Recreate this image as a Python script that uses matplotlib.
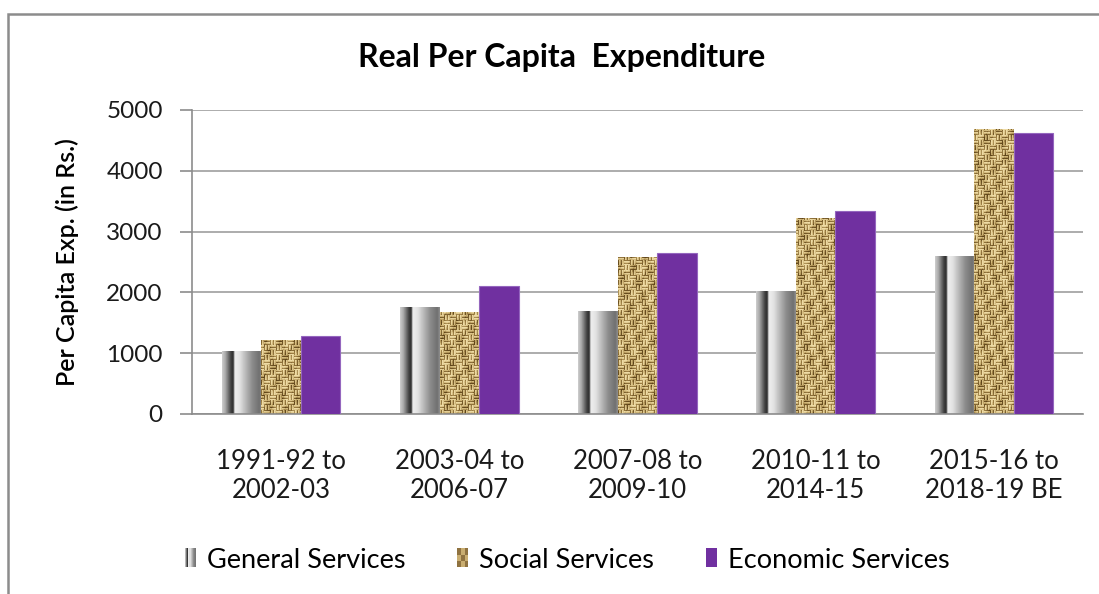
import numpy as np
import matplotlib
matplotlib.use("Agg")
import matplotlib.pyplot as plt
from matplotlib.patches import Rectangle
from matplotlib.path import Path
from matplotlib.colors import LinearSegmentedColormap
from matplotlib.legend_handler import HandlerBase

plt.rcParams["font.family"] = ["Lato", "DejaVu Sans"]

periods = ["1991-92 to\n2002-03", "2003-04 to\n2006-07", "2007-08 to\n2009-10",
           "2010-11 to\n2014-15", "2015-16 to\n2018-19 BE"]
series = ["General Services", "Social Services", "Economic Services"]
general = [1025, 1750, 1690, 2010, 2590]
social = [1210, 1680, 2575, 3225, 4680]
economic = [1280, 2100, 2655, 3340, 4615]
yticks = [0, 1000, 2000, 3000, 4000, 5000]

PURPLE = "#7030a0"
GRID = "#a6a6a6"

# cylinder-like shading across a general services bar (position, gray level)
shade_stops = [(0.00, 0.80), (0.08, 0.66), (0.22, 0.25), (0.28, 0.18),
               (0.32, 0.94), (0.45, 0.88), (0.75, 0.56), (0.94, 0.44), (1.00, 0.55)]
shade_cmap = LinearSegmentedColormap.from_list(
    "shade", [(p, (g, g, g)) for p, g in shade_stops])

weave_cmap = LinearSegmentedColormap.from_list(
    "weave", ["#5e4419", "#9a7c42", "#ceb476", "#efdca6"])


def weave_texture(h, w):
    yy, xx = np.mgrid[0:h, 0:w]
    horiz = ((yy // 5) + (xx // 6)) % 2 == 0
    strand = np.where(horiz, yy % 3, xx % 3)
    val = np.where(strand == 0, 0.25, np.where(strand == 1, 0.9, 0.68))
    val = val + 0.22 * np.sin(xx * 0.37 + yy * 0.11) * np.sin(yy * 0.23 - xx * 0.05)
    val = val - 0.12 * (np.sin(xx * 0.9 + yy * 0.4) > 0.85)
    return np.clip(val, 0, 1)


class GeneralHandler(HandlerBase):
    def create_artists(self, legend, orig_handle, xd, yd, width, height, fontsize, trans):
        n = 10
        x0, y0 = -xd, -yd - 1
        out = []
        for i in range(n):
            g = shade_cmap((i + 0.5) / n)
            out.append(Rectangle((x0 + width * i / n, y0), width / n, height + 2,
                                 facecolor=g, edgecolor="none", transform=trans))
        return out


class SocialHandler(HandlerBase):
    def create_artists(self, legend, orig_handle, xd, yd, width, height, fontsize, trans):
        x0, y0 = -xd, -yd - 1
        out = [Rectangle((x0, y0), width, height + 2, facecolor="#c9ad70",
                         edgecolor="none", transform=trans)]
        for i in range(3):
            for j in range(3):
                if (i + j) % 2 == 0:
                    out.append(Rectangle((x0 + width * i / 3, y0 + (height + 2) * j / 3),
                                         width / 3, (height + 2) / 3,
                                         facecolor="#8f7240", edgecolor="none",
                                         transform=trans))
        return out


class PlainHandler(HandlerBase):
    def create_artists(self, legend, orig_handle, xd, yd, width, height, fontsize, trans):
        return [Rectangle((-xd, -yd - 1), width, height + 2, facecolor=PURPLE,
                          edgecolor="none", transform=trans)]


fig = plt.figure(figsize=(10.99, 5.94), dpi=100)
ax = fig.add_axes([192 / 1099, 1 - 414 / 594, (1083 - 192) / 1099, (414 - 110) / 594])

x = np.arange(len(periods))
bw = 0.222
gen_bars = ax.bar(x - bw, general, bw, color="none", edgecolor="none")
soc_bars = ax.bar(x, social, bw, color="none", edgecolor="none")
eco_bars = ax.bar(x + bw, economic, bw, color=PURPLE, edgecolor="#9466be",
                  linewidth=0.8, zorder=3)

# gradient fill for general services bars
grad = np.linspace(0, 1, 64)[None, :]
for p in gen_bars:
    ax.imshow(grad, cmap=shade_cmap, vmin=0, vmax=1, aspect="auto",
              extent=(p.get_x(), p.get_x() + p.get_width(), 0, p.get_height()),
              interpolation="bilinear", zorder=2)

# woven texture for social services bars, clipped to the bar outlines
tex = weave_texture(304, 891)
im = ax.imshow(tex, cmap=weave_cmap, vmin=0, vmax=1, aspect="auto",
               extent=(-0.5, 4.5, 0, 5000), interpolation="bilinear", zorder=2)
rects = []
for p in soc_bars:
    x0, x1, h = p.get_x(), p.get_x() + p.get_width(), p.get_height()
    rects.append(Path([(x0, 0), (x1, 0), (x1, h), (x0, h), (x0, 0)], closed=True))
im.set_clip_path(Path.make_compound_path(*rects), ax.transData)

ax.set_xlim(-0.5, 4.5)
ax.set_ylim(0, 5000)
ax.set_yticks(yticks)
ax.set_xticks(x)
ax.set_xticklabels(periods, fontsize=18.5, linespacing=1.2, color="#1a1a1a")
ax.tick_params(axis="x", length=0, pad=25)
ax.tick_params(axis="y", labelsize=17.5, labelcolor="#1a1a1a", length=9,
               color="#8c8c8c", width=1.2, pad=12)
ax.set_axisbelow(True)
ax.yaxis.grid(True, color=GRID, linewidth=1.3)
for s in ["top", "right"]:
    ax.spines[s].set_visible(False)
for s in ["left", "bottom"]:
    ax.spines[s].set_color("#8c8c8c")
    ax.spines[s].set_linewidth(1.2)

fig.text(562 / 1099, 1 - 58 / 594, "Real Per Capita  Expenditure",
         fontsize=23, fontweight="bold", ha="center", va="center")
fig.text(67 / 1099, 1 - 262 / 594, "Per Capita Exp. (in Rs.)", rotation=90,
         fontsize=18, fontweight="semibold", ha="center", va="center")

handles = [gen_bars, soc_bars, eco_bars]
fig.legend(handles, series, loc="center", bbox_to_anchor=(0.516, 1 - 560 / 594),
           ncol=3, frameon=False, fontsize=19.5, handlelength=0.42, handleheight=0.55,
           handletextpad=0.4, columnspacing=1.9,
           handler_map={gen_bars: GeneralHandler(), soc_bars: SocialHandler(),
                        eco_bars: PlainHandler()})

# outer chart frame
fig.add_artist(Rectangle((8 / 1099, -0.1), 1.2, 1 - 14 / 594 + 0.1,
                         transform=fig.transFigure, fill=False,
                         edgecolor="#8c8c8c", linewidth=1.8, clip_on=False))

fig.savefig("out.png", dpi=100)
